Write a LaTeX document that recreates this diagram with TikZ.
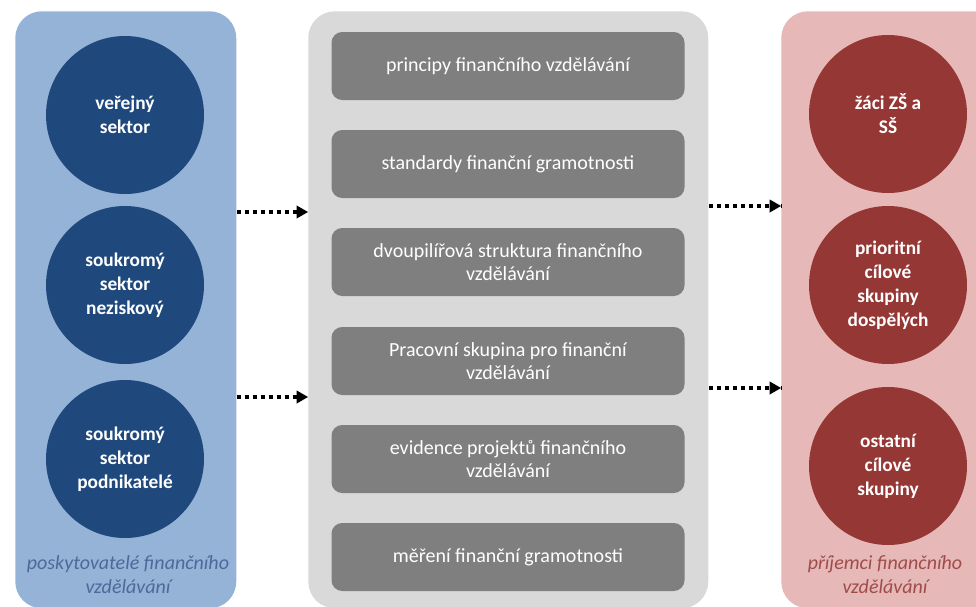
\documentclass[tikz,border=0pt]{standalone}
\usepackage{fontspec}
\setmainfont{Carlito}
\usetikzlibrary{arrows}
\usetikzlibrary{decorations.markings}
\definecolor{provfill}{HTML}{95B3D7}
\definecolor{provcirc}{HTML}{1F497D}
\definecolor{provtext}{HTML}{4A6A9C}
\definecolor{midfill}{HTML}{D9D9D9}
\definecolor{midbox}{HTML}{7F7F7F}
\definecolor{recvfill}{HTML}{E6B9B8}
\definecolor{recvcirc}{HTML}{953735}
\definecolor{recvtext}{HTML}{A04C4A}
\tikzset{dotarrow/.style = {line width = 3pt, dash pattern = on 3pt off 3pt,
                            decoration={markings,
                                        mark=at position 1 with {\arrow[scale=0.6]{triangle 60}}},
                            postaction={decorate}}}
\tikzset{panel/.style = {rounded corners = 20pt, inner sep = 0, anchor = north west}}
\tikzset{disc/.style = {circle, inner sep = 0, minimum size = 118.5pt, text = white,
                        align = center, font = \fontsize{14.5}{18}\selectfont\bfseries}}
\tikzset{tile/.style = {fill = midbox, rounded corners = 8pt, minimum width = 264.75pt,
                        minimum height = 51pt, text = white, align = center,
                        font = \fontsize{15}{17.5}\selectfont}}
\tikzset{caption/.style = {align = center, font = \fontsize{15}{18}\selectfont\itshape}}

\begin{document}
\begin{tikzpicture}[x=0.75pt, y=-0.75pt]
      \useasboundingbox (0, 0) rectangle (976, 607);
      \clip (0, 0) rectangle (976, 607);

      % three columns
      \node (prov) [panel, fill = provfill, minimum width = 165.75pt, minimum height = 447.75pt] at (15, 11) {};
      \node (mid) [panel, fill = midfill, minimum width = 300pt, minimum height = 447.75pt] at (308, 11) {};
      \node (recv) [panel, fill = recvfill, minimum width = 180pt, minimum height = 447.75pt] at (781, 11) {};

      % providers
      \node (verejny) [disc, fill = provcirc] at (125, 115) {veřejný\\sektor};
      \node (nezisk) [disc, fill = provcirc] at (125, 285) {soukromý\\sektor\\neziskový};
      \node (podnik) [disc, fill = provcirc] at (125, 459) {soukromý\\sektor\\podnikatelé};
      \node (provlabel) [caption, text = provtext] at (128, 575) {poskytovatelé finančního\\vzdělávání};

      % tools
      \node (principy) [tile] at (508, 66) {principy finančního vzdělávání};
      \node (standardy) [tile] at (508, 164) {standardy finanční gramotnosti};
      \node (pilire) [tile] at (508, 262) {dvoupilířová struktura finančního\\vzdělávání};
      \node (skupina) [tile] at (508, 361) {Pracovní skupina pro finanční\\vzdělávání};
      \node (evidence) [tile] at (508, 459) {evidence projektů finančního\\vzdělávání};
      \node (mereni) [tile] at (508, 557) {měření finanční gramotnosti};

      % receivers
      \node (zaci) [disc, fill = recvcirc] at (888, 114) {žáci ZŠ a\\SŠ};
      \node (dospeli) [disc, fill = recvcirc] at (888, 285) {prioritní\\cílové\\skupiny\\dospělých};
      \node (ostatni) [disc, fill = recvcirc] at (888, 466) {ostatní\\cílové\\skupiny};
      \node (recvlabel) [caption, text = recvtext] at (885, 575) {příjemci finančního\\vzdělávání};

      % flows
      \coordinate (in1) at (0, 212);
      \coordinate (in2) at (0, 397);
      \coordinate (out1) at (0, 206);
      \coordinate (out2) at (0, 388);
      \draw [dotarrow] (prov.east |- in1) -- (mid.west |- in1);
      \draw [dotarrow] (prov.east |- in2) -- (mid.west |- in2);
      \draw [dotarrow] (mid.east |- out1) -- (recv.west |- out1);
      \draw [dotarrow] (mid.east |- out2) -- (recv.west |- out2);
    \end{tikzpicture}
\end{document}
